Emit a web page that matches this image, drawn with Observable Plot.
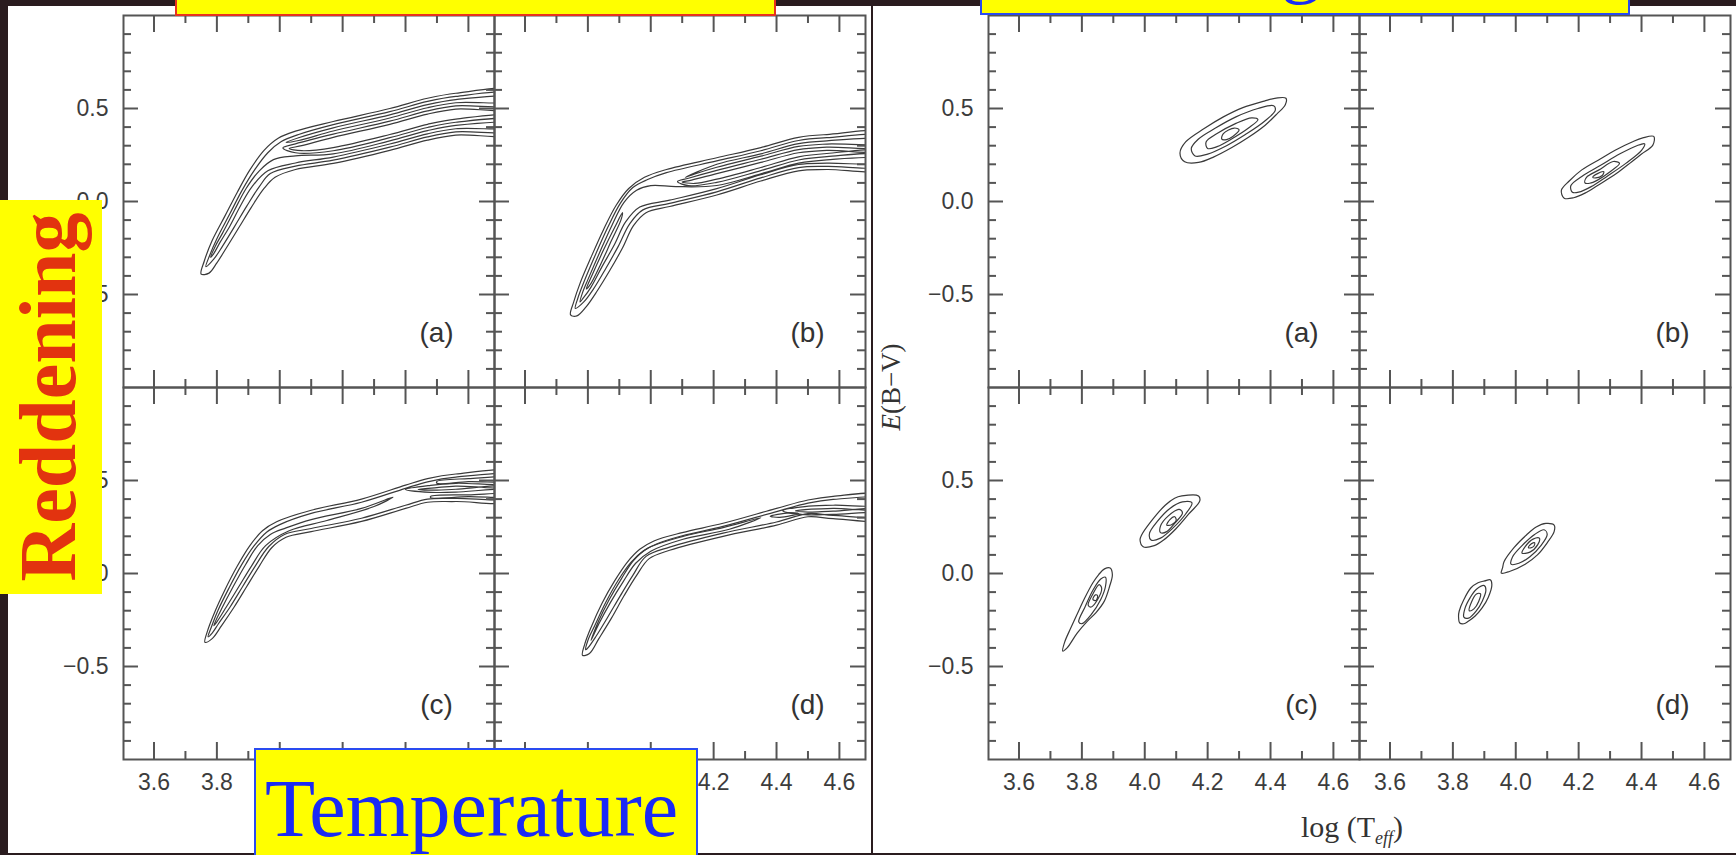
<!DOCTYPE html>
<html><head><meta charset="utf-8">
<script src="https://cdn.jsdelivr.net/npm/d3@7"></script>
<script src="https://cdn.jsdelivr.net/npm/@observablehq/plot@0.6"></script>
<style>
html,body{margin:0;padding:0;}
body{width:1736px;height:855px;overflow:hidden;position:relative;background:#2a1c1f;}
.white{position:absolute;top:6px;width:863px;height:847px;background:#fff;overflow:hidden;}
.box{position:absolute;background:#ffff00;box-sizing:border-box;overflow:hidden;}
.serif{font-family:"Liberation Serif","Times New Roman",serif;}
</style></head><body>
<div id="leftFig" class="white" style="left:8px"></div>
<div id="rightFig" class="white" style="left:873px"></div>

<div class="serif" style="position:absolute;left:891px;top:387px;transform:translate(-50%,-50%) rotate(-90deg);font-size:27px;color:#333;white-space:nowrap;line-height:1"><i>E</i>(B−V)</div>
<div class="serif" style="position:absolute;left:1252px;top:812px;width:200px;text-align:center;font-size:30px;color:#333;white-space:nowrap;line-height:1">log (T<sub style="font-size:18px;font-style:italic">eff</sub>)</div>

<div class="box" style="left:175px;top:-40px;width:601px;height:56px;border:2px solid #e8321e"></div>
<div class="box" style="left:980px;top:-40px;width:650px;height:55px;border:2px solid #2a4bf0">
  <span class="serif" style="position:absolute;left:299px;top:-41px;font-size:80px;line-height:1;color:#1a2cf5">g</span>
</div>
<div class="box" style="left:0;top:200px;width:102px;height:394px">
  <div class="serif" style="position:absolute;left:48px;top:197px;transform:translate(-50%,-50%) rotate(-90deg);font-size:80px;line-height:1;font-weight:bold;color:#e2330f;white-space:nowrap">Reddening</div>
</div>
<div class="box" style="left:254px;top:748px;width:444px;height:120px;border:2px solid #2a4bf0">
  <div class="serif" style="position:absolute;left:9px;top:18px;font-size:82px;line-height:1;color:#1a2af5;white-space:nowrap">Temperature</div>
</div>

<script>
// ---------- axes ----------
const xDomain = [3.503, 4.683];
const yDomain = [-1, 1];
const xTickLabels = [3.6, 3.8, 4.0, 4.2, 4.4, 4.6];
const xMinorTicks = [3.7, 3.9, 4.1, 4.3, 4.5];
const yTickLabels = [-0.5, 0, 0.5];
const yMinorTicks = [-0.9,-0.8,-0.7,-0.6,-0.4,-0.3,-0.2,-0.1,0.1,0.2,0.3,0.4,0.6,0.7,0.8,0.9];

// ---------- panels ----------
const panelKeys = ["a","b","c","d"];
const panelLabels = ["(a)","(b)","(c)","(d)"];
const panelCol = ["L","R","L","R"];
const panelRow = ["T","T","B","B"];

// ---------- left figure contours (log Teff, E(B-V) pairs) ----------
const leftA = [
 [3.75,-0.39, 3.76,-0.32, 3.785,-0.21, 3.825,-0.08, 3.865,0.05, 3.905,0.17, 3.95,0.275, 3.995,0.34, 4.05,0.378, 4.17,0.43, 4.35,0.50, 4.47,0.555, 4.56,0.582, 4.75,0.595,
  4.75,0.505, 4.56,0.497, 4.47,0.47, 4.35,0.415, 4.17,0.345, 4.07,0.30, 4.03,0.285, 4.07,0.273, 4.17,0.29, 4.35,0.36, 4.47,0.415, 4.56,0.443, 4.75,0.452,
  4.75,0.365, 4.56,0.357, 4.47,0.33, 4.35,0.275, 4.17,0.205, 4.05,0.172, 3.985,0.13, 3.95,0.07, 3.91,-0.03, 3.87,-0.14, 3.83,-0.25, 3.80,-0.33, 3.775,-0.385],
 [3.765,-0.35, 3.777,-0.29, 3.80,-0.2, 3.84,-0.07, 3.88,0.06, 3.92,0.17, 3.962,0.262, 4.005,0.322, 4.06,0.36, 4.17,0.413, 4.35,0.483, 4.47,0.538, 4.56,0.565, 4.75,0.578,
  4.75,0.522, 4.56,0.514, 4.47,0.487, 4.35,0.432, 4.17,0.362, 4.05,0.31, 4.01,0.288, 4.05,0.262, 4.17,0.273, 4.35,0.343, 4.47,0.398, 4.56,0.426, 4.75,0.435,
  4.75,0.382, 4.56,0.374, 4.47,0.347, 4.35,0.292, 4.17,0.222, 4.05,0.19, 3.97,0.15, 3.935,0.08, 3.895,-0.025, 3.856,-0.135, 3.818,-0.24, 3.79,-0.31],
 [4.02,0.318, 4.06,0.343, 4.17,0.396, 4.35,0.466, 4.47,0.521, 4.56,0.548, 4.75,0.561, 4.75,0.539, 4.56,0.531, 4.47,0.504, 4.35,0.449, 4.17,0.379, 4.06,0.328],
 [3.78,-0.30, 3.795,-0.24, 3.818,-0.17, 3.855,-0.05, 3.893,0.07, 3.935,0.165, 3.98,0.225, 4.05,0.245, 4.17,0.256, 4.35,0.326, 4.47,0.381, 4.56,0.409, 4.75,0.418,
  4.75,0.399, 4.56,0.391, 4.47,0.364, 4.35,0.309, 4.17,0.239, 4.05,0.207, 3.962,0.165, 3.912,0.08, 3.876,-0.02, 3.842,-0.13, 3.81,-0.22, 3.79,-0.28]
];
const leftB = [
 [3.745,-0.61, 3.755,-0.54, 3.775,-0.44, 3.81,-0.30, 3.85,-0.15, 3.89,-0.02, 3.93,0.07, 3.98,0.13, 4.05,0.172, 4.21,0.235, 4.35,0.29, 4.47,0.345, 4.56,0.36, 4.75,0.367,
  4.75,0.28, 4.56,0.275, 4.47,0.262, 4.35,0.21, 4.21,0.15, 4.13,0.115, 4.10,0.105, 4.14,0.097, 4.21,0.12, 4.35,0.183, 4.47,0.24, 4.56,0.258, 4.75,0.263,
  4.75,0.175, 4.56,0.172, 4.47,0.165, 4.35,0.11, 4.21,0.035, 4.06,-0.027, 3.985,-0.06, 3.945,-0.13, 3.91,-0.25, 3.87,-0.37, 3.83,-0.48, 3.795,-0.565, 3.765,-0.615],
 [3.76,-0.575, 3.768,-0.52, 3.788,-0.43, 3.823,-0.29, 3.863,-0.14, 3.903,-0.01, 3.943,0.075, 3.99,0.118, 4.05,0.155, 4.21,0.218, 4.35,0.273, 4.47,0.328, 4.56,0.343, 4.75,0.35,
  4.75,0.297, 4.56,0.292, 4.47,0.279, 4.35,0.227, 4.21,0.167, 4.12,0.125, 4.085,0.107, 4.12,0.085, 4.21,0.103, 4.35,0.166, 4.47,0.223, 4.56,0.241, 4.75,0.246,
  4.75,0.192, 4.56,0.189, 4.47,0.182, 4.35,0.127, 4.21,0.052, 4.06,-0.01, 3.975,-0.045, 3.933,-0.12, 3.897,-0.24, 3.857,-0.36, 3.818,-0.47, 3.787,-0.54],
 [4.11,0.13, 4.21,0.20, 4.35,0.256, 4.47,0.311, 4.56,0.326, 4.75,0.333, 4.75,0.314, 4.56,0.309, 4.47,0.296, 4.35,0.244, 4.21,0.184, 4.14,0.148],
 [3.775,-0.54, 3.783,-0.49, 3.80,-0.42, 3.836,-0.28, 3.876,-0.13, 3.915,-0.005, 3.955,0.06, 4.0,0.085, 4.08,0.08, 4.21,0.086, 4.35,0.149, 4.47,0.206, 4.56,0.224, 4.75,0.229,
  4.75,0.209, 4.56,0.206, 4.47,0.199, 4.35,0.144, 4.21,0.069, 4.06,0.007, 3.965,-0.03, 3.92,-0.11, 3.885,-0.23, 3.845,-0.35, 3.81,-0.46, 3.785,-0.52],
 [3.795,-0.47, 3.815,-0.39, 3.85,-0.26, 3.885,-0.14, 3.91,-0.06, 3.905,-0.1, 3.875,-0.21, 3.84,-0.34, 3.81,-0.44]
];
const leftC = [
 [3.762,-0.37, 3.77,-0.31, 3.79,-0.22, 3.825,-0.09, 3.865,0.04, 3.905,0.15, 3.945,0.23, 3.99,0.278, 4.10,0.34, 4.26,0.40, 4.40,0.475, 4.47,0.51, 4.56,0.535, 4.75,0.545,
  4.75,0.475, 4.56,0.47, 4.50,0.462, 4.44,0.452, 4.50,0.448, 4.56,0.453, 4.75,0.458,
  4.75,0.39, 4.56,0.387, 4.47,0.383, 4.40,0.35, 4.26,0.28, 4.10,0.225, 4.02,0.195, 3.975,0.14, 3.935,0.04, 3.895,-0.07, 3.855,-0.18, 3.815,-0.28, 3.785,-0.35],
 [3.772,-0.34, 3.782,-0.29, 3.803,-0.2, 3.838,-0.08, 3.878,0.045, 3.918,0.148, 3.958,0.222, 4.0,0.263, 4.10,0.323, 4.26,0.383, 4.40,0.458, 4.47,0.493, 4.56,0.518, 4.75,0.528,
  4.75,0.49, 4.56,0.485, 4.48,0.474, 4.40,0.452, 4.48,0.436, 4.56,0.438, 4.75,0.443,
  4.75,0.407, 4.56,0.404, 4.47,0.4, 4.40,0.367, 4.26,0.297, 4.10,0.242, 4.015,0.21, 3.965,0.145, 3.922,0.04, 3.882,-0.07, 3.842,-0.18, 3.805,-0.27, 3.785,-0.32],
 [3.79,-0.28, 3.815,-0.19, 3.852,-0.07, 3.892,0.05, 3.93,0.15, 3.97,0.21, 4.02,0.245, 4.10,0.29, 4.26,0.35, 4.36,0.41, 4.30,0.36, 4.15,0.285, 4.03,0.23, 3.955,0.15, 3.91,0.04, 3.87,-0.07, 3.83,-0.18, 3.80,-0.26],
 [4.50,0.495, 4.60,0.51, 4.75,0.515, 4.75,0.498, 4.60,0.494, 4.50,0.485],
 [4.48,0.415, 4.60,0.423, 4.75,0.426, 4.75,0.414, 4.60,0.413, 4.48,0.408]
];
const leftD = [
 [3.783,-0.44, 3.79,-0.38, 3.81,-0.29, 3.845,-0.16, 3.885,-0.04, 3.925,0.06, 3.965,0.13, 4.01,0.175, 4.10,0.22, 4.23,0.27, 4.40,0.35, 4.50,0.395, 4.58,0.415, 4.75,0.42,
  4.75,0.355, 4.58,0.35, 4.50,0.345, 4.46,0.337, 4.50,0.33, 4.58,0.335, 4.75,0.34,
  4.75,0.29, 4.58,0.295, 4.50,0.305, 4.40,0.26, 4.23,0.20, 4.06,0.125, 3.995,0.08, 3.955,-0.01, 3.915,-0.12, 3.875,-0.24, 3.835,-0.35, 3.805,-0.43],
 [3.793,-0.41, 3.80,-0.36, 3.822,-0.28, 3.857,-0.155, 3.897,-0.035, 3.937,0.06, 3.977,0.122, 4.02,0.16, 4.10,0.203, 4.23,0.253, 4.40,0.333, 4.50,0.378, 4.58,0.398, 4.75,0.403,
  4.75,0.372, 4.58,0.367, 4.49,0.36, 4.42,0.338, 4.49,0.316, 4.58,0.318, 4.75,0.323,
  4.75,0.307, 4.58,0.312, 4.50,0.322, 4.40,0.277, 4.23,0.217, 4.06,0.142, 3.985,0.092, 3.943,-0.01, 3.903,-0.12, 3.863,-0.235, 3.825,-0.34, 3.80,-0.40],
 [3.81,-0.36, 3.833,-0.26, 3.868,-0.14, 3.906,-0.03, 3.945,0.07, 3.99,0.135, 4.10,0.198, 4.23,0.247, 4.35,0.30, 4.25,0.238, 4.10,0.183, 4.0,0.12, 3.952,0.055, 3.912,-0.045, 3.872,-0.155, 3.835,-0.27],
 [4.38,0.308, 4.44,0.326, 4.47,0.322, 4.41,0.302]
];

// ---------- right figure contours ----------
const rightA = [
 [4.127,0.214, 4.112,0.26, 4.13,0.32, 4.189,0.392, 4.25,0.455, 4.312,0.505, 4.38,0.54, 4.418,0.556, 4.449,0.555, 4.447,0.52, 4.42,0.47, 4.383,0.41, 4.33,0.345, 4.277,0.29, 4.22,0.24, 4.171,0.21],
 [4.16,0.245, 4.148,0.285, 4.17,0.335, 4.225,0.395, 4.29,0.455, 4.36,0.50, 4.41,0.515, 4.415,0.49, 4.38,0.43, 4.32,0.36, 4.26,0.30, 4.20,0.255],
 [4.20,0.285, 4.195,0.32, 4.23,0.365, 4.29,0.42, 4.34,0.45, 4.36,0.44, 4.33,0.395, 4.28,0.34, 4.23,0.295],
 [4.245,0.335, 4.25,0.365, 4.285,0.395, 4.30,0.385, 4.28,0.35, 4.26,0.333]
];
const rightB = [
 [4.154,0.018, 4.145,0.06, 4.17,0.11, 4.21,0.17, 4.27,0.23, 4.316,0.276, 4.37,0.32, 4.404,0.342, 4.439,0.35, 4.436,0.303, 4.40,0.255, 4.369,0.214, 4.32,0.15, 4.263,0.089, 4.22,0.045, 4.184,0.02],
 [4.18,0.05, 4.175,0.085, 4.21,0.135, 4.27,0.195, 4.33,0.255, 4.385,0.30, 4.41,0.31, 4.40,0.275, 4.35,0.205, 4.29,0.135, 4.24,0.08, 4.20,0.05],
 [4.22,0.10, 4.225,0.13, 4.265,0.17, 4.31,0.215, 4.33,0.205, 4.30,0.16, 4.26,0.115, 4.235,0.098],
 [4.245,0.13, 4.26,0.15, 4.28,0.16, 4.275,0.14, 4.255,0.127]
];
const rightC = [
 [3.995,0.144, 3.985,0.18, 3.99,0.207, 4.02,0.28, 4.065,0.367, 4.095,0.405, 4.118,0.417, 4.171,0.417, 4.175,0.39, 4.14,0.32, 4.10,0.242, 4.06,0.18, 4.03,0.15],
 [4.02,0.18, 4.015,0.215, 4.04,0.28, 4.08,0.35, 4.12,0.385, 4.15,0.38, 4.13,0.32, 4.09,0.245, 4.05,0.19],
 [4.05,0.22, 4.05,0.255, 4.075,0.31, 4.11,0.345, 4.12,0.325, 4.095,0.27, 4.07,0.225],
 [4.07,0.26, 4.08,0.29, 4.095,0.305, 4.10,0.285, 4.085,0.262],
 [3.739,-0.417, 3.745,-0.37, 3.765,-0.292, 3.79,-0.2, 3.809,-0.132, 3.835,-0.05, 3.853,-0.007, 3.872,0.025, 3.89,0.03, 3.897,-0.007, 3.888,-0.07, 3.871,-0.15, 3.845,-0.21, 3.817,-0.257, 3.785,-0.32, 3.753,-0.40],
 [3.79,-0.26, 3.81,-0.18, 3.835,-0.09, 3.86,-0.03, 3.875,-0.02, 3.875,-0.07, 3.86,-0.14, 3.83,-0.22, 3.80,-0.27],
 [3.82,-0.17, 3.835,-0.11, 3.855,-0.06, 3.863,-0.08, 3.85,-0.14, 3.83,-0.18],
 [3.835,-0.14, 3.843,-0.115, 3.85,-0.12, 3.845,-0.145]
];
const rightD = [
 [3.954,0.002, 3.958,0.03, 3.963,0.064, 3.995,0.14, 4.034,0.207, 4.065,0.25, 4.096,0.269, 4.122,0.26, 4.122,0.225, 4.10,0.165, 4.069,0.10, 4.03,0.05, 3.98,0.011],
 [3.985,0.05, 3.99,0.09, 4.02,0.15, 4.06,0.21, 4.09,0.235, 4.10,0.21, 4.08,0.15, 4.045,0.09, 4.01,0.055],
 [4.02,0.11, 4.03,0.145, 4.055,0.185, 4.075,0.19, 4.07,0.155, 4.045,0.115],
 [4.04,0.14, 4.05,0.16, 4.06,0.165, 4.058,0.148, 4.048,0.138],
 [3.822,-0.266, 3.818,-0.23, 3.82,-0.203, 3.835,-0.14, 3.857,-0.078, 3.88,-0.05, 3.901,-0.04, 3.919,-0.034, 3.924,-0.06, 3.912,-0.13, 3.893,-0.185, 3.87,-0.23, 3.849,-0.257, 3.835,-0.27],
 [3.835,-0.235, 3.838,-0.19, 3.855,-0.13, 3.875,-0.085, 3.9,-0.065, 3.905,-0.09, 3.893,-0.15, 3.875,-0.2, 3.85,-0.24],
 [3.852,-0.2, 3.86,-0.15, 3.875,-0.11, 3.888,-0.11, 3.882,-0.15, 3.867,-0.19]
];

function loopRows(panels) {
  const rows = [];
  panels.forEach((loops, i) => loops.forEach((loop, j) => {
    for (let t = 0; t < loop.length; t += 2)
      rows.push({col: panelCol[i], row: panelRow[i], id: panelKeys[i] + j, x: loop[t], y: loop[t + 1]});
  }));
  return rows;
}

function drawFigure(el, panels, ml) {
  const W = 863, H = 847, mt = 9, mb = 94, mr = 6;
  const facetW = (W - ml - mr) / 2, facetH = (H - mt - mb) / 2;
  const kx = facetW / (xDomain[1] - xDomain[0]);
  const ky = facetH / (yDomain[1] - yDomain[0]);
  const tickColor = "#555";
  const xt = (vals, len) => [
    Plot.ruleX(vals, {x: d => d, y1: yDomain[0], y2: yDomain[0] + len / ky, stroke: tickColor, strokeWidth: 2}),
    Plot.ruleX(vals, {x: d => d, y1: yDomain[1], y2: yDomain[1] - len / ky, stroke: tickColor, strokeWidth: 2})
  ];
  const yt = (vals, len) => [
    Plot.ruleY(vals, {y: d => d, x1: xDomain[0], x2: xDomain[0] + len / kx, stroke: tickColor, strokeWidth: 2}),
    Plot.ruleY(vals, {y: d => d, x1: xDomain[1], x2: xDomain[1] - len / kx, stroke: tickColor, strokeWidth: 2})
  ];
  const idx = d3.range(panelKeys.length);
  const chart = Plot.plot({
    width: W, height: H,
    marginLeft: ml, marginRight: mr, marginTop: mt, marginBottom: mb,
    x: {domain: xDomain},
    y: {domain: yDomain},
    fx: {domain: ["L","R"], padding: 0, axis: null},
    fy: {domain: ["T","B"], padding: 0, axis: null},
    style: {background: "transparent", fontFamily: "'Liberation Sans', Arial, sans-serif", fontSize: "23px", color: "#3c3c3c", overflow: "visible"},
    marks: [
      Plot.line(loopRows(panels), {x: "x", y: "y", z: "id", fx: "col", fy: "row", curve: "catmull-rom-closed", stroke: "#3a3a3a", strokeWidth: 1.2, clip: true}),
      ...xt(xTickLabels, 17), ...xt(xMinorTicks, 8),
      ...yt(yTickLabels, 15), ...yt(yMinorTicks, 8),
      Plot.frame({stroke: tickColor, strokeWidth: 2}),
      Plot.text(idx, {fx: i => panelCol[i], fy: i => panelRow[i], text: i => panelLabels[i], frameAnchor: "bottom-right", dx: -58, dy: -54, textAnchor: "middle", lineAnchor: "middle", fontSize: 28, fill: "#333"}),
      Plot.axisX(xTickLabels, {anchor: "bottom", tickSize: 0, tickPadding: 14, tickFormat: d3.format(".1f"), label: null}),
      Plot.axisY(yTickLabels, {anchor: "left", tickSize: 0, tickPadding: 15, tickFormat: d3.format(".1f"), label: null})
    ]
  });
  el.appendChild(chart);
}

drawFigure(document.getElementById("leftFig"), [leftA, leftB, leftC, leftD], 114);
drawFigure(document.getElementById("rightFig"), [rightA, rightB, rightC, rightD], 115);
</script>
</body></html>
